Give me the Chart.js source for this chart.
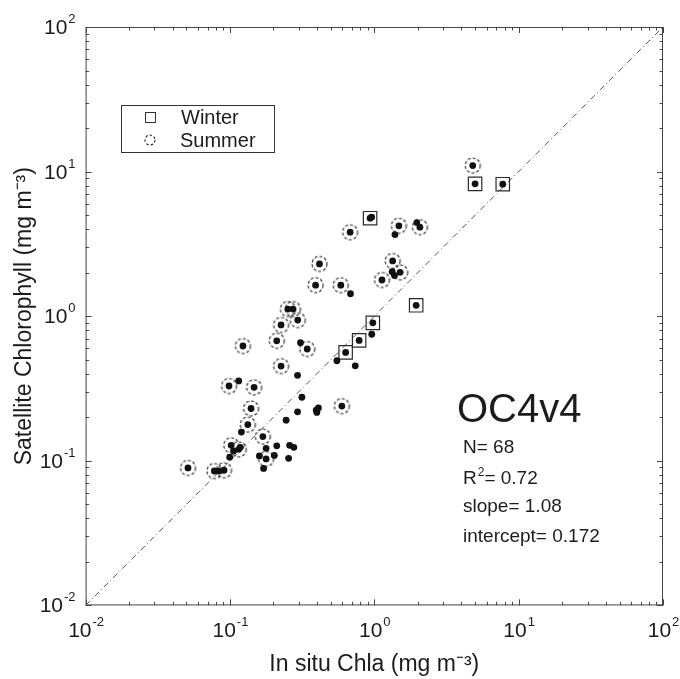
<!DOCTYPE html>
<html>
<head>
<meta charset="utf-8">
<script src="https://cdn.jsdelivr.net/npm/chart.js@4.4.1/dist/chart.umd.min.js"></script>
<style>
    html, body { margin: 0; padding: 0; background: #fff; }
</style>
</head>
<body>
<canvas id="chart" width="680" height="679"></canvas>
<script>
// ─── Data ─────────────────────────────────────────────────────────────────────
// Summer stations (dot inside a dashed circle)
const summerX = [4.81, 0.68, 1.48, 2.07, 0.417, 0.392, 0.586, 1.34, 1.51, 1.13, 0.252, 0.273, 0.295, 0.226, 0.211,
    0.343, 0.226, 0.147, 0.596, 0.140, 0.169, 0.123, 0.0985, 0.133, 0.102, 0.115, 0.0512, 0.078, 0.091, 0.178];
const summerY = [11.0, 3.81, 4.22, 4.13, 2.30, 1.64, 1.64, 2.41, 2.01, 1.78, 1.12, 1.12, 0.94, 0.87, 0.676,
    0.593, 0.452, 0.322, 0.239, 0.230, 0.147, 0.622, 0.329, 0.178, 0.128, 0.120, 0.0893, 0.085, 0.086, 0.103];

// Winter stations (dot inside a square)
const winterX = [4.99, 7.76, 0.935, 1.95, 0.977, 0.785, 0.633];
const winterY = [8.23, 8.18, 4.76, 1.19, 0.90, 0.68, 0.562];

// Remaining stations (plain dot)
const otherX = [0.96, 1.39, 1.97, 0.684, 1.33, 1.38, 0.96, 0.551, 0.738, 0.308, 0.294, 0.315, 0.294, 0.396, 0.41,
    0.40, 0.245, 0.211, 0.259, 0.277, 0.178, 0.160, 0.203, 0.255, 0.171, 0.115, 0.120, 0.106, 0.0996, 0.0837, 0.118];
const otherY = [4.85, 3.67, 4.44, 1.43, 2.03, 1.91, 0.75, 0.492, 0.454, 0.655, 0.390, 0.275, 0.218, 0.224, 0.232,
    0.216, 0.191, 0.127, 0.128, 0.124, 0.122, 0.108, 0.109, 0.104, 0.0886, 0.357, 0.158, 0.117, 0.106, 0.085, 0.124];

// 1:1 line
const oneToOneX = [0.01, 100];
const oneToOneY = [0.01, 100];

// Axis decades (exponents) and labels
const decades = [-2, -1, 0, 1, 2];
const xTitle = 'In situ Chla (mg m\u207B\u00B3)';
const yTitle = 'Satellite Chlorophyll (mg m\u207B\u00B3)';

// Legend + statistics box
const legendLabels = ['Winter', 'Summer'];
const algoName = 'OC4v4';
const statNames = ['N', 'R', 'slope', 'intercept'];
const statValues = ['68', '0.72', '1.08', '0.172'];

// ─── Helpers ──────────────────────────────────────────────────────────────────
const FONT = '"Liberation Sans", Arial, Helvetica, sans-serif';
const INK = '#1c1c1c';

const toPoints = (xs, ys) => xs.map((x, i) => ({ x, y: ys[i] }));

function dashedRing(r, dash) {
    const s = Math.ceil(2 * r + 4);
    const c = document.createElement('canvas');
    c.width = s;
    c.height = s;
    const g = c.getContext('2d');
    g.strokeStyle = '#262626';
    g.lineWidth = 1.1;
    g.setLineDash(dash);
    g.beginPath();
    g.arc(s / 2, s / 2, r, 0, Math.PI * 2);
    g.stroke();
    return c;
}

function drawPow(ctx, sup, x, y, align, baseSize, supSize) {
    ctx.font = `${baseSize}px ${FONT}`;
    const wb = ctx.measureText('10').width;
    ctx.font = `${supSize}px ${FONT}`;
    const ws = ctx.measureText(sup).width;
    let x0 = x;
    if (align === 'center') x0 = x - (wb + ws) / 2;
    if (align === 'right') x0 = x - (wb + ws);
    ctx.textAlign = 'left';
    ctx.textBaseline = 'alphabetic';
    ctx.font = `${baseSize}px ${FONT}`;
    ctx.fillText('10', x0, y);
    ctx.font = `${supSize}px ${FONT}`;
    ctx.fillText(sup, x0 + wb + 1, y - 11);
}

// ─── Frame, inward ticks, tick labels, legend and stats ──────────────────────
const decorPlugin = {
    id: 'decor',
    afterDraw(chart) {
        const { ctx, chartArea: a, scales } = chart;
        const xs = scales.x;
        const ys = scales.y;
        ctx.save();

        // frame
        ctx.strokeStyle = '#444';
        ctx.lineWidth = 1;
        ctx.strokeRect(a.left + 0.5, a.top + 0.5, a.right - a.left - 1, a.bottom - a.top - 1);

        // inward ticks on all four sides
        ctx.beginPath();
        for (let e = -2; e <= 2; e++) {
            for (let m = 1; m <= 9; m++) {
                if (e === 2 && m > 1) break;
                const v = m * Math.pow(10, e);
                const len = m === 1 ? 6 : 3.5;
                const px = Math.round(xs.getPixelForValue(v)) + 0.5;
                const py = Math.round(ys.getPixelForValue(v)) + 0.5;
                ctx.moveTo(px, a.bottom);
                ctx.lineTo(px, a.bottom - len);
                ctx.moveTo(px, a.top);
                ctx.lineTo(px, a.top + len);
                ctx.moveTo(a.left, py);
                ctx.lineTo(a.left + len, py);
                ctx.moveTo(a.right, py);
                ctx.lineTo(a.right - len, py);
            }
        }
        ctx.stroke();

        // decade labels
        ctx.fillStyle = INK;
        decades.forEach(e => {
            const sup = e < 0 ? '-' + Math.abs(e) : String(e);
            drawPow(ctx, sup, xs.getPixelForValue(Math.pow(10, e)), a.bottom + 32, 'center', 21, 13);
            drawPow(ctx, sup, a.left - 11, ys.getPixelForValue(Math.pow(10, e)) + 7, 'right', 21, 13);
        });

        // legend
        const lx = 121, ly = 105, lw = 153, lh = 47;
        ctx.strokeStyle = '#333';
        ctx.lineWidth = 1;
        ctx.strokeRect(lx + 0.5, ly + 0.5, lw, lh);
        ctx.strokeRect(145.5, 112.5, 10, 10);
        ctx.drawImage(legendRing, 150 - legendRing.width / 2, 140 - legendRing.height / 2);
        ctx.font = `20px ${FONT}`;
        ctx.textAlign = 'left';
        ctx.textBaseline = 'alphabetic';
        ctx.fillText(legendLabels[0], 181, 124);
        ctx.fillText(legendLabels[1], 180, 147);

        // algorithm name and statistics
        ctx.font = `40px ${FONT}`;
        ctx.fillText(algoName, 457, 422);
        const base = [453, 484, 512, 542];
        statNames.forEach((name, i) => {
            let x = 463;
            ctx.font = `19px ${FONT}`;
            ctx.fillText(name, x, base[i]);
            x += ctx.measureText(name).width;
            if (name === 'R') {
                ctx.font = `12px ${FONT}`;
                ctx.fillText('2', x + 1, base[i] - 8);
                x += ctx.measureText('2').width + 1;
                ctx.font = `19px ${FONT}`;
            }
            ctx.fillText('= ' + statValues[i], x, base[i]);
        });

        ctx.restore();
    },
};

const plotRing = dashedRing(7.5, [3, 2]);
const legendRing = dashedRing(5, [2.5, 2]);

// ─── Chart ────────────────────────────────────────────────────────────────────
const allX = [...summerX, ...winterX, ...otherX];
const allY = [...summerY, ...winterY, ...otherY];

new Chart(document.getElementById('chart'), {
    type: 'scatter',
    data: {
        datasets: [
            {
                label: 'stations',
                data: toPoints(allX, allY),
                pointRadius: 3.4,
                pointBackgroundColor: '#111',
                pointBorderWidth: 0,
            },
            {
                label: legendLabels[0],
                data: toPoints(winterX, winterY),
                pointStyle: 'rect',
                pointRadius: 9.5,
                pointBackgroundColor: 'rgba(0,0,0,0)',
                pointBorderColor: '#2a2a2a',
                pointBorderWidth: 1.2,
            },
            {
                label: legendLabels[1],
                data: toPoints(summerX, summerY),
                pointStyle: plotRing,
                pointRadius: 8,
            },
            {
                type: 'line',
                label: '1:1',
                data: toPoints(oneToOneX, oneToOneY),
                borderColor: '#555',
                borderWidth: 1,
                borderDash: [6, 3, 1, 3],
                pointRadius: 0,
                fill: false,
            },
        ],
    },
    options: {
        responsive: false,
        animation: false,
        events: [],
        layout: { padding: { top: 27, right: 17, left: 0, bottom: 0 } },
        plugins: {
            legend: { display: false },
            tooltip: { enabled: false },
        },
        scales: {
            x: {
                type: 'logarithmic',
                position: 'bottom',
                min: 0.01,
                max: 100,
                grid: { display: false, drawTicks: false },
                border: { display: false },
                ticks: { display: false },
                title: {
                    display: true,
                    text: xTitle,
                    color: INK,
                    font: { family: FONT, size: 23 },
                    padding: { top: 45, bottom: 1 },
                },
            },
            y: {
                type: 'logarithmic',
                position: 'left',
                min: 0.01,
                max: 100,
                grid: { display: false, drawTicks: false },
                border: { display: false },
                ticks: { display: false },
                title: {
                    display: true,
                    text: yTitle,
                    color: INK,
                    font: { family: FONT, size: 23 },
                    padding: { top: 11, bottom: 47 },
                },
            },
        },
    },
    plugins: [decorPlugin],
});
</script>
</body>
</html>
